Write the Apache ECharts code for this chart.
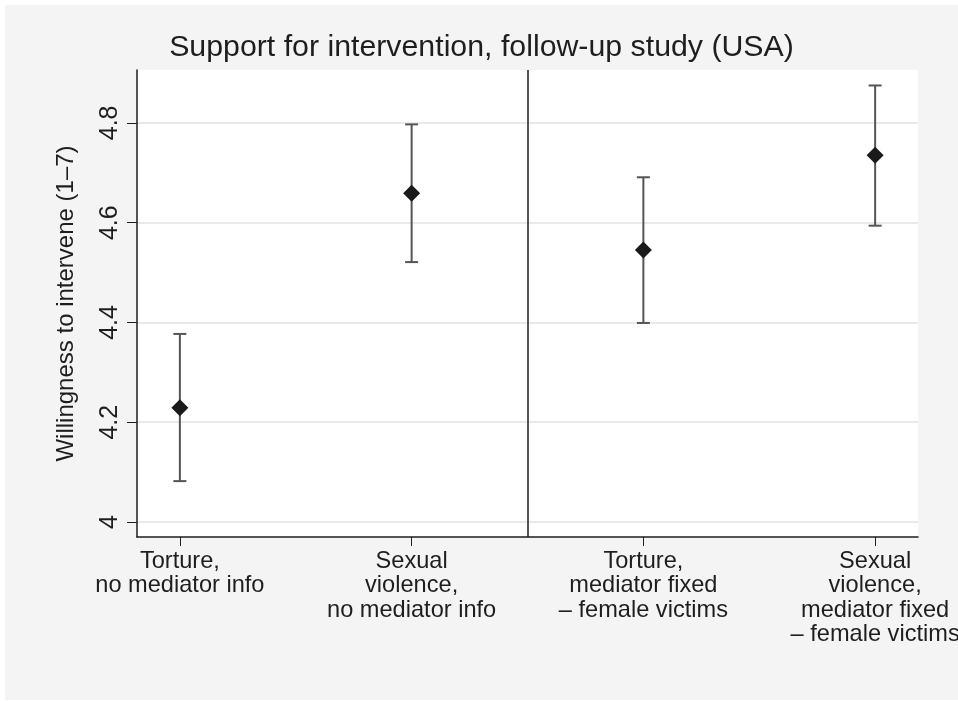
<!DOCTYPE html>
<html>
<head>
<meta charset="utf-8">
<script src="https://cdn.jsdelivr.net/npm/echarts@6/dist/echarts.min.js"></script>
<style>
  html, body { margin: 0; padding: 0; background: #ffffff; }
  #chart { position: absolute; left: 5px; top: 5px; width: 953px; height: 695px; }
</style>
</head>
<body>
<div id="chart"></div>
<script>
// ---- data ----
const categories = [
  "Torture,\nno mediator info",
  "Sexual\nviolence,\nno mediator info",
  "Torture,\nmediator fixed\n\u2013 female victims",
  "Sexual\nviolence,\nmediator fixed\n\u2013 female victims"
];
const positions = [1, 2, 3, 4];
const means = [4.229, 4.659, 4.545, 4.735];
const ciLower = [4.082, 4.521, 4.399, 4.594];
const ciUpper = [4.377, 4.797, 4.691, 4.875];
const yTicks = [4, 4.2, 4.4, 4.6, 4.8];
const separatorAt = 2.5;

const FONT = "'Liberation Sans', Arial, Helvetica, sans-serif";
const TXT = '#1e1e1e';

const chart = echarts.init(document.getElementById('chart'), null, { renderer: 'canvas' });

const pointData = positions.map((p, i) => [p, means[i]]);
const ciData = positions.map((p, i) => [p, ciLower[i], ciUpper[i]]);

const option = {
  backgroundColor: '#f4f4f4',
  animation: false,
  title: {
    text: 'Support for intervention, follow-up study (USA)',
    left: 'center',
    top: 23,
    textStyle: { fontFamily: FONT, fontSize: 30.3, fontWeight: 'normal', color: TXT }
  },
  grid: {
    left: 132, right: 40, top: 65, bottom: 163,
    containLabel: false,
    outerBoundsMode: 'none',
    show: true, backgroundColor: '#ffffff', borderWidth: 0
  },
  xAxis: {
    type: 'value',
    min: 0.815, max: 4.185,
    axisLine: { show: true, lineStyle: { color: TXT, width: 1.5 } },
    axisTick: { show: true, length: 9, lineStyle: { color: TXT, width: 1 }, customValues: positions },
    axisLabel: {
      customValues: positions,
      formatter: v => categories[positions.indexOf(Math.round(v))] || '',
      fontFamily: FONT, fontSize: 23.6, color: TXT, lineHeight: 24.4, margin: 12, align: 'center'
    },
    splitLine: { show: false }
  },
  yAxis: {
    type: 'value',
    min: 3.97, max: 4.906,
    name: 'Willingness to intervene (1\u20137)',
    nameLocation: 'middle',
    nameGap: 59,
    nameRotate: 90,
    nameTextStyle: { fontFamily: FONT, fontSize: 24, color: TXT },
    axisLine: { show: true, lineStyle: { color: TXT, width: 1.5 } },
    axisTick: { show: true, length: 10, lineStyle: { color: TXT, width: 1 }, customValues: yTicks },
    axisLabel: {
      customValues: yTicks,
      rotate: 90,
      fontFamily: FONT, fontSize: 25, color: TXT, margin: 14
    },
    splitLine: { show: true, lineStyle: { color: '#eaeaea', width: 2 } }
  },
  series: [
    {
      type: 'custom',
      name: 'ci',
      data: ciData,
      z: 2,
      renderItem: function (params, api) {
        const x = api.value(0);
        const lo = api.coord([x, api.value(1)]);
        const hi = api.coord([x, api.value(2)]);
        const cap = 6.5;
        const style = { stroke: '#555555', lineWidth: 2 };
        return {
          type: 'group',
          children: [
            { type: 'line', shape: { x1: lo[0], y1: lo[1], x2: hi[0], y2: hi[1] }, style: style },
            { type: 'line', shape: { x1: lo[0] - cap, y1: lo[1], x2: lo[0] + cap, y2: lo[1] }, style: style },
            { type: 'line', shape: { x1: hi[0] - cap, y1: hi[1], x2: hi[0] + cap, y2: hi[1] }, style: style }
          ]
        };
      }
    },
    {
      type: 'scatter',
      name: 'mean',
      data: pointData,
      z: 3,
      symbol: 'diamond',
      symbolSize: [17, 17],
      itemStyle: { color: '#1a1a1a', opacity: 1 },
      markLine: {
        silent: true,
        symbol: 'none',
        label: { show: false },
        lineStyle: { color: TXT, width: 1.5, type: 'solid' },
        data: [{ xAxis: separatorAt }]
      }
    }
  ]
};
chart.setOption(option);
</script>
</body>
</html>
